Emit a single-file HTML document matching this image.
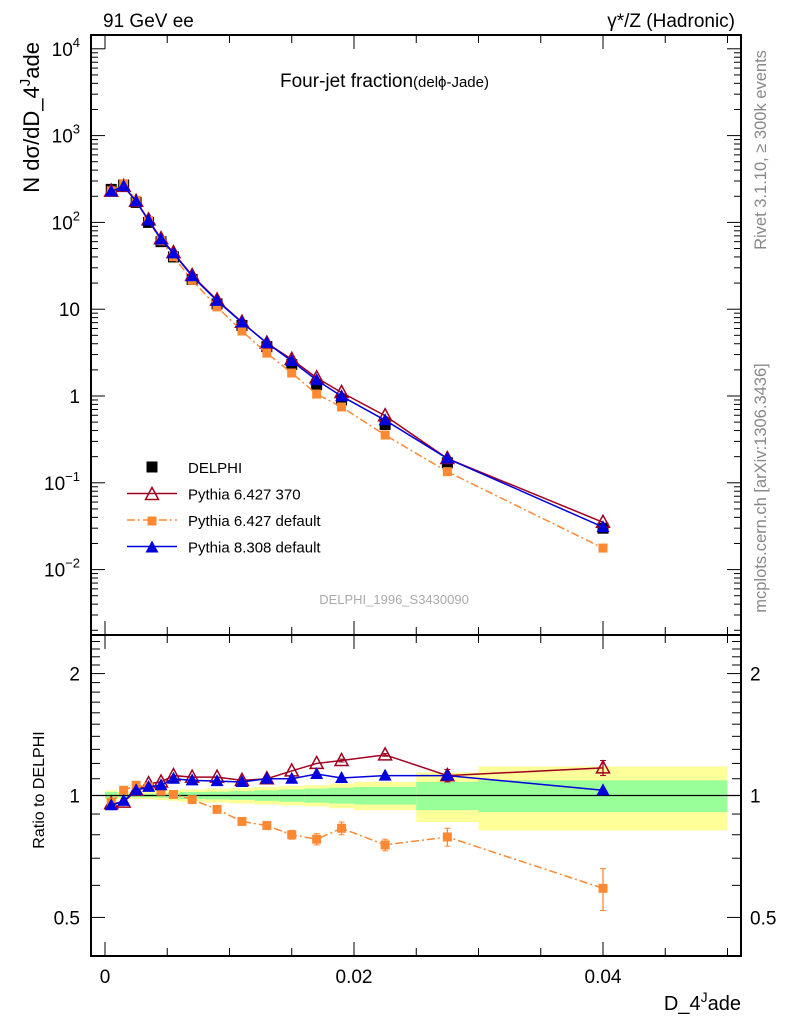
<!DOCTYPE html>
<html><head><meta charset="utf-8"><style>
body{margin:0;background:#fff;}
svg{display:block;font-family:"Liberation Sans",sans-serif;}
</style></head><body>
<svg id="c" width="786" height="1024" viewBox="0 0 786 1024" xmlns="http://www.w3.org/2000/svg">
<g id="bands"></g>
<g id="grid"></g>
<g id="marks"></g>
<rect x="91" y="35" width="650" height="600" fill="none" stroke="#000" stroke-width="2"/>
<rect x="91" y="635" width="650" height="321" fill="none" stroke="#000" stroke-width="2"/>
<text x="103" y="27" font-size="19">91 GeV ee</text>
<text x="735" y="27" font-size="19" text-anchor="end">γ*/Z (Hadronic)</text>
<text x="280" y="87" font-size="19">Four-jet fraction<tspan font-size="15">(delϕ-Jade)</tspan></text>
<text x="394" y="604" font-size="13" fill="#aaa" text-anchor="middle">DELPHI_1996_S3430090</text>
<text transform="translate(766,150) rotate(-90)" font-size="16.5" fill="#888" text-anchor="middle">Rivet 3.1.10, ≥ 300k events</text>
<text transform="translate(766,488) rotate(-90)" font-size="16.5" fill="#888" text-anchor="middle">mcplots.cern.ch [arXiv:1306.3436]</text>
<text transform="translate(39,42) rotate(-90)" font-size="22" text-anchor="end">N dσ/dD_4<tspan dy="-9" font-size="15">J</tspan><tspan dy="9">ade</tspan></text>
<text transform="translate(44,790) rotate(-90)" font-size="16" text-anchor="middle">Ratio to DELPHI</text>
<text x="741" y="1010" font-size="20" text-anchor="end">D_4<tspan dy="-8" font-size="14">J</tspan><tspan dy="8">ade</tspan></text>
<g id="legend"></g>
</svg>
<script>
const xVals=[0.0005,0.0015,0.0025,0.0035,0.0045,0.0055,0.007,0.009,0.011,0.013,0.015,0.017,0.019,0.0225,0.0275,0.04];
const binEdges=[0,0.001,0.002,0.003,0.004,0.005,0.006,0.008,0.010,0.012,0.014,0.016,0.018,0.020,0.025,0.030,0.050];
const dataVals=[240,270,170,100,60,40,22,11.5,6.5,3.7,2.3,1.35,0.9,0.47,0.17,0.03];
const bandYellow=[0.03,0.02,0.02,0.02,0.025,0.03,0.035,0.04,0.045,0.05,0.055,0.06,0.07,0.08,0.14,0.18];
const bandGreen=[0.02,0.01,0.01,0.01,0.012,0.015,0.02,0.022,0.025,0.03,0.035,0.04,0.045,0.05,0.08,0.09];
const ratio370=[0.955,0.963,1.03,1.07,1.08,1.12,1.11,1.11,1.09,1.10,1.15,1.20,1.22,1.26,1.12,1.17];
const ratioP6def=[0.963,1.03,1.06,1.05,1.025,1.006,0.977,0.924,0.863,0.843,0.80,0.78,0.83,0.755,0.79,0.59];
const ratioP8=[0.946,0.97,1.03,1.05,1.06,1.10,1.09,1.085,1.08,1.10,1.10,1.13,1.105,1.12,1.12,1.03];
const errP6def=[0.01,0.01,0.01,0.01,0.01,0.01,0.01,0.01,0.01,0.015,0.02,0.025,0.03,0.025,0.04,0.07];
const err370=[0.005,0.005,0.005,0.005,0.005,0.005,0.005,0.005,0.005,0.005,0.005,0.005,0.01,0.01,0.04,0.05];
const yTickExp=[-2,-1,0,1,2,3,4];
const rTicks=[0.5,1,2];
const xTicks=[0,0.02,0.04];

const NS="http://www.w3.org/2000/svg";
const X=v=>105+v*12450;
const Y=v=>396-86.8*Math.log10(v);
const R=r=>795.5-405*Math.log10(r);
function mk(p,tag,at){const e=document.createElementNS(NS,tag);for(const k in at)e.setAttribute(k,at[k]);p.appendChild(e);return e;}
const bands=document.getElementById('bands'),grid=document.getElementById('grid'),marks=document.getElementById('marks'),leg=document.getElementById('legend');

for(let i=0;i<xVals.length;i++){
  const x0=X(binEdges[i]),x1=X(binEdges[i+1]);
  const y=mk(bands,'rect',{x:x0,y:R(1+bandYellow[i]),width:x1-x0,height:R(1-bandYellow[i])-R(1+bandYellow[i]),fill:'#ffff99'});
  
  
  const g=mk(bands,'rect',{x:x0,y:R(1+bandGreen[i]),width:x1-x0,height:R(1-bandGreen[i])-R(1+bandGreen[i]),fill:'#99ff99'});
  
  
}
mk(grid,'line',{x1:91,x2:741,y1:R(1),y2:R(1),stroke:'#000','stroke-width':1.2});

for(let e=-3;e<=4;e++){
  for(let m=1;m<10;m++){
    const v=m*Math.pow(10,e);const y=Y(v);if(y<35||y>635)continue;
    const L=m==1?14:7;
    mk(grid,'line',{x1:91,x2:91+L,y1:y,y2:y,stroke:'#000'});
    mk(grid,'line',{x1:741,x2:741-L,y1:y,y2:y,stroke:'#000'});
  }
}
yTickExp.forEach(e=>{
  const t=mk(grid,'text',{x:80,y:Y(Math.pow(10,e))+7,'font-size':19,'text-anchor':'end'});
  
  
  if(e==0)t.textContent='1';else if(e==1)t.textContent='10';
  else{t.innerHTML='10<tspan dy="-9" font-size="13">'+(e<0?'−'+(-e):e)+'</tspan>';}
});
[0.5,0.6,0.7,0.8,0.9,1,1.1,1.2,1.3,1.4,1.5,1.6,1.7,1.8,1.9,2,2.1,2.2,2.3,2.4,2.5].forEach(r=>{
  const y=R(r);if(y<636)return;const L=rTicks.includes(r)?14:9;
  mk(grid,'line',{x1:91,x2:91+L,y1:y,y2:y,stroke:'#000'});
  mk(grid,'line',{x1:741,x2:741-L,y1:y,y2:y,stroke:'#000'});
});
rTicks.forEach(r=>{
  const t=mk(grid,'text',{x:80,y:R(r)+7,'font-size':19,'text-anchor':'end'});t.textContent=String(r);
  
  
  const t2=mk(grid,'text',{x:750,y:R(r)+7,'font-size':19});t2.textContent=String(r);
  
  
});
for(let k=0;k<=10;k++){
  const v=k*0.005,x=X(v);if(x>741)continue;const L=(k%4==0)?14:8;
  [[35,1],[635,-1],[635,1],[956,-1]].forEach(([y0,d])=>mk(grid,'line',{x1:x,x2:x,y1:y0,y2:y0+d*L,stroke:'#000'}));
}
xTicks.forEach(v=>{
  const t=mk(grid,'text',{x:X(v),y:983,'font-size':19,'text-anchor':'middle'});t.textContent=String(v);
  
  
});

const series=[
 {name:'pythia-6427-370',col:'#a00020',ratio:ratio370,err:err370,mk:'otri',dash:''},
 {name:'pythia-6427-default',col:'#ff8833',ratio:ratioP6def,err:errP6def,mk:'sq',dash:'8,3,2,3'},
 {name:'pythia-8308-default',col:'#0000dd',ratio:ratioP8,err:null,mk:'tri',dash:''}
];
function marker(p,type,x,y,col,nm){
  let e;
  if(type=='sq')e=mk(p,'rect',{x:x-4.5,y:y-4.5,width:9,height:9,fill:col});
  else if(type=='dsq')e=mk(p,'rect',{x:x-5.5,y:y-5.5,width:11,height:11,fill:'#000'});
  else if(type=='tri')e=mk(p,'polygon',{points:`${x},${y-7} ${x-6.5},${y+5} ${x+6.5},${y+5}`,fill:col});
  else e=mk(p,'polygon',{points:`${x},${y-7} ${x-6.5},${y+5} ${x+6.5},${y+5}`,fill:'none',stroke:col,'stroke-width':1.5});
  
  
}
xVals.forEach((v,i)=>marker(marks,'dsq',X(v),Y(dataVals[i]),'#000','delphi-point'));
series.forEach(s=>{
  const mainPts=xVals.map((v,i)=>[X(v),Y(dataVals[i]*s.ratio[i])]);
  const ratPts=xVals.map((v,i)=>[X(v),R(s.ratio[i])]);
  [mainPts,ratPts].forEach((pts,j)=>{
    const l=mk(marks,'polyline',{points:pts.map(p=>p.join(',')).join(' '),fill:'none',stroke:s.col,'stroke-width':1.5,'stroke-dasharray':s.dash});
    
    
    if(j&&s.err){xVals.forEach((v,i)=>{const e=s.err[i];if(e<0.01)return;const x=X(v),a=R(s.ratio[i]+e),b=R(s.ratio[i]-e);
      mk(marks,'line',{x1:x,x2:x,y1:a,y2:b,stroke:s.col,'stroke-width':1.3});
      mk(marks,'line',{x1:x-3,x2:x+3,y1:a,y2:a,stroke:s.col});mk(marks,'line',{x1:x-3,x2:x+3,y1:b,y2:b,stroke:s.col});});}
    pts.forEach(p=>marker(marks,s.mk,p[0],p[1],s.col,s.name+'-point'));
  });
});
const legRows=[['DELPHI','dsq','#000',''],['Pythia 6.427 370','otri','#a00020',''],['Pythia 6.427 default','sq','#ff8833','8,3,2,3'],['Pythia 8.308 default','tri','#0000dd','']];
legRows.forEach((r,i)=>{
  const y=467+i*26.5;
  if(i>0)mk(leg,'line',{x1:127,x2:177,y1:y,y2:y,stroke:r[2],'stroke-width':1.5,'stroke-dasharray':r[3]});
  marker(leg,r[1],152,r[1]=='dsq'?y:y+1,r[2],'legend-marker');
  const t=mk(leg,'text',{x:188,y:y+6,'font-size':15});t.textContent=r[0];
  
  
});
</script>
</body></html>
